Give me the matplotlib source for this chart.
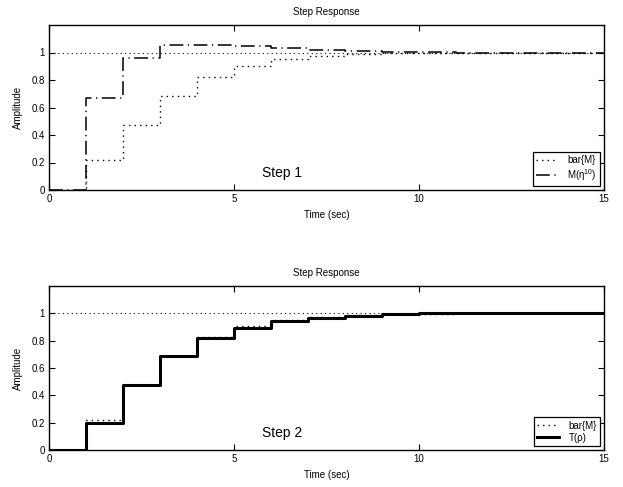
import matplotlib
matplotlib.use("Agg")
import matplotlib.pyplot as plt
import numpy as np

plt.rcParams['font.family'] = ['Liberation Sans', 'DejaVu Sans']
plt.rcParams['mathtext.fontset'] = 'custom'
plt.rcParams['mathtext.rm'] = 'Liberation Sans'

# Data (sample time 1 s)
t = list(range(16))
bar_M = [0, 0.218, 0.473, 0.687, 0.825, 0.905, 0.951, 0.976, 0.988, 0.994, 0.997, 0.999, 1.0, 1.0, 1.0, 1.0]
M_eta = [0, 0.672, 0.961, 1.053, 1.053, 1.048, 1.032, 1.018, 1.008, 1.003, 1.001, 1.0, 1.0, 1.0, 1.0, 1.0]
T_rho = [0, 0.197, 0.477, 0.691, 0.822, 0.895, 0.944, 0.968, 0.982, 0.993, 1.002, 1.006, 1.006, 1.005, 1.005, 1.005]
steady = 1.0
xticks = [0, 5, 10, 15]
yticks = [0, 0.2, 0.4, 0.6, 0.8, 1]
ytick_labels = ['0', '0.2', '0.4', '0.6', '0.8', '1']

W, H = 623, 487
fig = plt.figure(figsize=(W / 100, H / 100), dpi=100)

def px_axes(left, top, right, bottom):
    return fig.add_axes([left / W, 1 - bottom / H, (right - left) / W, (bottom - top) / H])

ax1 = px_axes(49, 25, 604, 190)
ax2 = px_axes(49, 286, 604, 450)

dot = (0, (1, 3))

def style(ax, step_text):
    ax.set_xlim(0, 15)
    ax.set_ylim(0, 1.2)
    ax.set_xticks(xticks)
    ax.set_xticklabels([str(x) for x in xticks])
    ax.set_yticks(yticks)
    ax.set_yticklabels(ytick_labels)
    ax.tick_params(direction='in', length=4, width=0.8, top=True, right=True,
                   labelsize=7, pad=3)
    for s in ax.spines.values():
        s.set_linewidth(1.0)
    ax.set_title('Step Response', fontsize=7, pad=7)
    ax.set_xlabel('Time (sec)', fontsize=7, labelpad=4)
    ax.set_ylabel('Amplitude', fontsize=7, labelpad=6)
    ax.text(6.29, 0.124, step_text, fontsize=10, ha='center', va='center')
    ax.axhline(steady, color='black', linestyle=dot, linewidth=0.8)

# Top plot
ax1.step(t, bar_M, where='post', color='black', linestyle=dot, linewidth=1.0, label='bar{M}')
ax1.step(t, M_eta, where='post', color='black', linestyle=(0, (9, 3, 0.8, 3)), linewidth=1.1,
         label=r'M(η$^{10}$)')
style(ax1, 'Step 1')

# Bottom plot
ax2.step(t, bar_M, where='post', color='black', linestyle=dot, linewidth=1.0, label='bar{M}')
ax2.step(t, T_rho, where='post', color='black', linestyle='-', linewidth=2.2, label='T(ρ)')
style(ax2, 'Step 2')

for ax in (ax1, ax2):
    leg = ax.legend(loc='lower right', fontsize=7, handlelength=2.2, handletextpad=1.0,
                    borderpad=0.35, labelspacing=0.2, fancybox=False, framealpha=1,
                    edgecolor='black', borderaxespad=0.4)
    leg.get_frame().set_linewidth(0.9)

fig.savefig('out.png', dpi=100)
